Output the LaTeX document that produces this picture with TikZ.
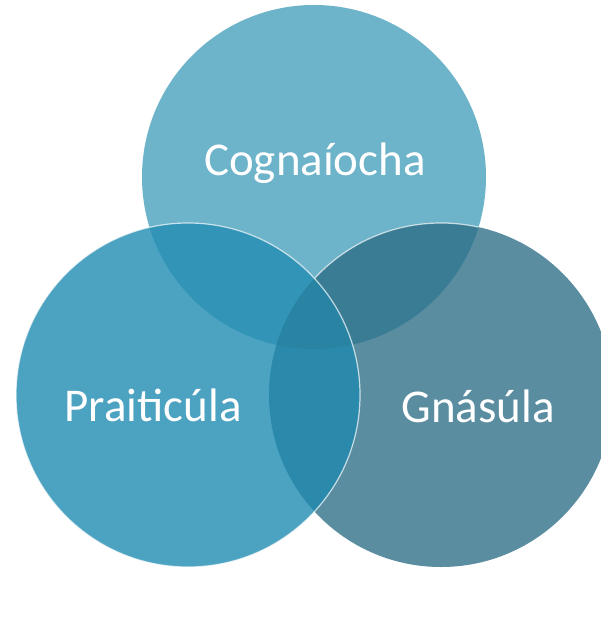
\documentclass[tikz,border=0pt]{standalone}
\usepackage{fontspec}
\setmainfont{Carlito}
\definecolor{topblue}{HTML}{6DB3CA}
\definecolor{leftblue}{HTML}{4CA3C1}
\definecolor{rightblue}{HTML}{5A8DA0}
\definecolor{topleft}{HTML}{3294B6}
\definecolor{topright}{HTML}{3B7C95}
\definecolor{leftright}{HTML}{2B8AAB}
\definecolor{allthree}{HTML}{2984A4}

\begin{document}
\begin{tikzpicture}[x=1pt,y=-1pt,
		setname/.style={text=white, font=\fontsize{47}{50}\selectfont, inner sep=0pt, anchor=base},
		rim/.style={draw=white, draw opacity=0.7, line width=1.2pt}]
	\fill[white] (0,0) rectangle (600,620);
	\useasboundingbox (0,0) rectangle (600,620);
	% Centres
	\coordinate (ctop) at (314,177);
	\coordinate (cleft) at (188,395);
	\coordinate (cright) at (441,395);
	\def\rad{172pt}
	% Top set
	\fill[topblue] (ctop) circle[radius=\rad];
	% Right set
	\fill[rightblue] (cright) circle[radius=\rad];
	\begin{scope}
		\clip (ctop) circle[radius=\rad];
		\fill[topright] (cright) circle[radius=\rad];
		\draw[rim] (cright) circle[radius=\rad];
	\end{scope}
	% Left set
	\fill[leftblue] (cleft) circle[radius=\rad];
	\begin{scope}
		\clip (cleft) circle[radius=\rad];
		\fill[topleft] (ctop) circle[radius=\rad];
		\fill[leftright] (cright) circle[radius=\rad];
		\clip (ctop) circle[radius=\rad];
		\fill[allthree] (cright) circle[radius=\rad];
	\end{scope}
	\draw[rim] (cleft) circle[radius=\rad];
	% Labels
	\node[setname] (cognaiocha) at (315,176) {Cognaíocha};
	\node[setname] (praiticula) at (153,421) {Praiticúla};
	\node[setname] (gnasula) at (478,422) {Gnásúla};
\end{tikzpicture}
\end{document}
